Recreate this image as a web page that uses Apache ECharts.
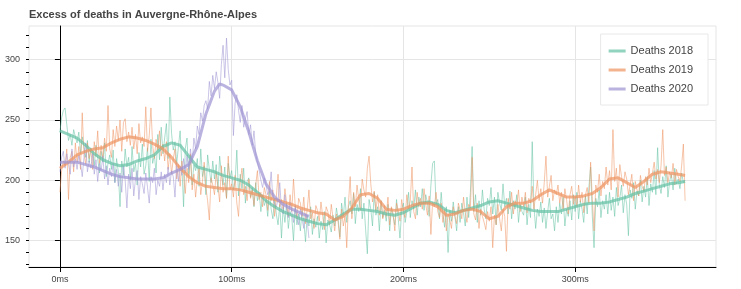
<!DOCTYPE html>
<html>
<head>
<meta charset="utf-8">
<script src="https://cdn.jsdelivr.net/npm/echarts@6/dist/echarts.min.js"></script>
<style>html,body{margin:0;padding:0;background:#fff}#c{width:741px;height:289px}</style>
</head>
<body>
<div id="c"></div>
<script>
const titleText = 'Excess of deaths in Auvergne-Rhône-Alpes';
const seriesNames = ['Deaths 2018', 'Deaths 2019', 'Deaths 2020'];
const xTicks = [0, 100, 200, 300];
const yTicks = [150, 200, 250, 300];
const yMinorTicks = [130,140,150,160,170,180,190,200,210,220,230,240,250,260,270,280,290,300,310,320];

// daily deaths, index = day of year
const deaths2018 = [
240,252,258,260,246,233,238,229,242,236,
231,240,222,236,228,219,233,215,227,224,
212,229,218,206,224,215,231,203,214,221,
209,225,198,218,207,178,216,204,226,211,
219,200,228,207,214,196,223,211,230,205,
212,227,199,234,214,221,206,238,217,244,
222,235,247,218,269,239,225,232,214,228,
241,212,178,226,235,204,221,196,213,208,
218,195,226,203,212,188,221,209,198,216,
201,213,190,220,206,196,211,185,214,202,
208,192,199,225,187,205,193,210,181,199,
202,186,194,178,198,183,190,174,188,179,
184,170,191,176,168,185,172,163,180,152,
178,165,181,160,174,169,150,177,163,172,
158,175,166,149,171,162,178,155,168,161,
170,152,166,159,174,148,167,163,157,171,
162,177,168,153,181,170,186,165,178,183,
172,189,164,180,174,193,168,181,159,139,
184,176,162,190,171,178,158,183,169,175,
166,180,158,177,170,163,184,168,152,176,
181,165,174,190,169,183,176,192,171,186,
178,193,175,188,181,170,196,214,216,180,
184,168,190,172,161,178,140,175,166,182,
170,158,178,165,181,173,162,186,169,190,
228,174,188,165,183,171,192,176,168,185,
179,194,172,186,163,190,181,175,197,178,
185,172,191,168,183,176,188,165,180,174,
171,186,163,180,169,232,178,160,176,170,
182,165,177,160,174,185,168,172,158,178,
165,181,172,186,162,176,170,183,167,188,
174,190,168,183,176,165,187,172,194,211,
170,144,185,178,192,169,183,176,188,172,
190,175,186,170,194,179,185,196,173,188,
180,154,192,185,198,176,191,187,200,182,
195,186,203,179,197,190,208,188,227,196,
189,203,194,212,186,199,205,192,210,197,
201,193,206,198,200
];
const deaths2019 = [
190,208,216,212,226,184,219,224,207,231,
215,228,209,256,222,213,231,218,226,209,
232,220,241,214,229,218,235,224,262,226,
219,242,228,245,233,250,224,248,251,232,
240,229,244,226,238,222,247,231,236,228,
261,224,237,260,229,218,234,225,241,220,
230,216,232,209,222,205,218,226,201,213,
195,216,204,189,210,198,222,192,205,186,
201,210,188,199,215,194,183,167,202,196,
188,207,195,182,212,190,198,185,220,192,
197,186,204,181,170,199,210,188,195,183,
201,185,192,179,196,208,184,190,178,194,
188,175,199,183,192,170,186,205,178,184,
176,193,181,170,188,174,201,179,168,185,
181,170,186,164,176,192,168,173,160,179,
175,166,182,170,159,178,174,163,180,169,
158,172,165,151,176,162,170,144,181,203,
168,190,178,196,184,175,201,192,186,210,
220,197,182,191,175,188,171,183,168,179,
170,186,163,178,172,158,181,175,166,184,
173,169,188,176,183,211,174,168,190,178,
185,176,193,180,171,187,155,182,178,190,
174,169,181,165,176,158,172,167,160,178,
170,164,181,175,168,186,173,165,180,177,
219,172,167,181,160,176,170,165,159,174,
166,178,144,171,163,180,168,158,176,170,
141,185,176,190,172,183,179,192,174,186,
178,190,173,185,181,195,176,188,200,183,
193,181,198,220,186,195,204,183,192,188,
196,181,190,176,193,184,172,188,195,180,
187,178,196,182,190,173,188,194,181,215,
184,158,196,190,205,187,199,193,211,196,
208,192,242,199,210,186,213,203,195,207,
201,188,196,205,183,199,192,187,204,195,
191,203,196,210,198,206,215,201,209,198,
212,242,204,211,198,207,202,214,196,209,
203,199,212,230,183
];
const deaths2020 = [
207,219,224,210,222,213,205,226,211,218,
209,221,214,203,219,231,207,216,210,222,
205,217,199,214,208,220,201,212,196,210,
203,214,198,209,195,206,190,212,200,177,
205,193,210,187,201,208,184,203,197,189,
206,194,181,203,198,210,188,200,195,207,
192,205,198,211,196,208,203,186,214,199,
212,204,218,206,221,209,226,214,235,226,
245,238,256,249,262,266,259,282,270,287,
276,290,281,268,296,312,285,318,292,279,
283,237,264,271,258,248,262,244,251,257,
238,246,229,241,222,215,208,200,194,202,
196,188,192,207,185,180,178,184,198,175,
172,188,176,169,182,174,165,179,170,163,
176,168,160,172,166,152
];

// smoothed (thick) lines
const smoothDays1819 = [0,5,10,15,20,25,30,35,40,45,50,55,60,65,70,75,80,85,90,95,100,105,110,115,120,125,130,135,140,145,150,155,160,165,170,175,180,185,190,195,200,205,210,215,220,225,230,235,240,245,250,255,260,265,270,275,280,285,290,295,300,305,310,315,320,325,330,335,340,345,350,355,360,364];
const smooth2018 = [
241,238,235,229,222,217,214,212,213,216,
218,221,228,231,229,220,211,209,207,204,
202,200,196,190,183,178,174,171,168,166,
164,163,167,172,176,176,175,174,172,171,
173,177,181,182,180,175,173,175,177,179,
182,183,181,179,177,175,174,174,174,176,
178,180,181,181,182,184,186,189,191,193,
195,197,198,199
];
const smooth2019 = [
210,215,221,224,226,227,231,234,236,235,
233,230,226,219,210,203,198,195,194,193,
193,192,190,188,186,184,182,180,177,175,
173,172,167,170,177,188,189,185,176,175,
176,179,181,181,178,171,172,175,176,174,
168,170,178,181,181,183,188,192,189,186,
186,187,189,194,201,202,198,194,199,205,
207,206,205,204
];
const smoothDays2020 = [0,5,10,15,20,25,30,35,40,45,50,55,60,65,70,75,80,85,90,93,95,100,105,110,115,120,125,130,135,140,145];
const smooth2020 = [215,215,215,213,211,208,205,203,202,201,201,201,202,206,209,213,228,255,274,280,279,275,261,240,216,197,186,180,176,173,170];

const colors = ['rgba(102,194,165,ALPHA)', 'rgba(238,150,100,ALPHA)', 'rgba(160,150,212,ALPHA)'];
const col = (i, a) => colors[i].replace('ALPHA', a);

const daily = [deaths2018, deaths2019, deaths2020];
const smoothX = [smoothDays1819, smoothDays1819, smoothDays2020];
const smoothY = [smooth2018, smooth2019, smooth2020];

const series = [];
daily.forEach((arr, i) => {
  series.push({
    name: seriesNames[i] + ' daily', type: 'line', showSymbol: false, silent: true,
    data: arr.map((v, d) => [d, v]),
    lineStyle: { width: 1, color: col(i, 0.55) }, itemStyle: { color: col(i, 0.55) }, z: 2
  });
});
smoothY.forEach((arr, i) => {
  series.push({
    name: seriesNames[i], type: 'line', showSymbol: false, silent: true,
    data: arr.map((v, k) => [smoothX[i][k], v]),
    lineStyle: { width: 3, color: col(i, 0.72) }, itemStyle: { color: col(i, 0.72) }, z: 3
  });
});

const FONT = 'Liberation Sans, Arial, Helvetica, sans-serif';
const chart = echarts.init(document.getElementById('c'), null, { renderer: 'canvas' });
chart.setOption({
  animation: false,
  backgroundColor: '#fff',
  title: { text: titleText, left: 29, top: 9, padding: 0,
    textStyle: { fontSize: 11, fontWeight: 'bold', color: '#444', fontFamily: FONT } },
  legend: {
    data: seriesNames, orient: 'vertical', right: 33, top: 34,
    padding: [10, 15, 9, 8], itemGap: 5, itemWidth: 17, itemHeight: 3, icon: 'rect',
    borderColor: '#e8e8e8', borderWidth: 1, backgroundColor: 'rgba(255,255,255,0.95)',
    textStyle: { fontSize: 11, color: '#444', fontFamily: FONT, lineHeight: 14 }
  },
  grid: { left: 29, right: 25, top: 26, bottom: 22, show: true, borderColor: '#e5e5e5', borderWidth: 1 },
  xAxis: {
    type: 'value', min: -18, max: 382, minInterval: 100, maxInterval: 100,
    axisLine: { show: true, lineStyle: { color: '#000', width: 1 } },
    axisTick: { show: true, length: 5, lineStyle: { color: '#000' }, customValues: xTicks },
    axisLabel: { customValues: xTicks, margin: 8, fontSize: 9, color: '#444', fontFamily: FONT,
      formatter: v => v + 'ms' },
    splitLine: { show: true, lineStyle: { color: '#e5e5e5', width: 1 } }
  },
  yAxis: [{
    type: 'value', min: 128, max: 328, minInterval: 50, maxInterval: 50, position: 'left',
    axisLine: { show: true, lineStyle: { color: '#000', width: 1 } },
    axisTick: { show: true, length: 5, lineStyle: { color: '#000' }, customValues: yTicks },
    axisLabel: { customValues: yTicks, margin: 9, fontSize: 9, color: '#444', fontFamily: FONT },
    splitLine: { show: true, lineStyle: { color: '#e5e5e5', width: 1 } }
  }, {
    type: 'value', min: 128, max: 328, minInterval: 10, maxInterval: 10, position: 'left', offset: 0,
    axisLine: { show: false },
    axisTick: { show: true, length: 3, lineStyle: { color: '#000' }, customValues: yMinorTicks },
    axisLabel: { show: false },
    splitLine: { show: false }
  }],
  series: series
});
</script>
</body>
</html>
